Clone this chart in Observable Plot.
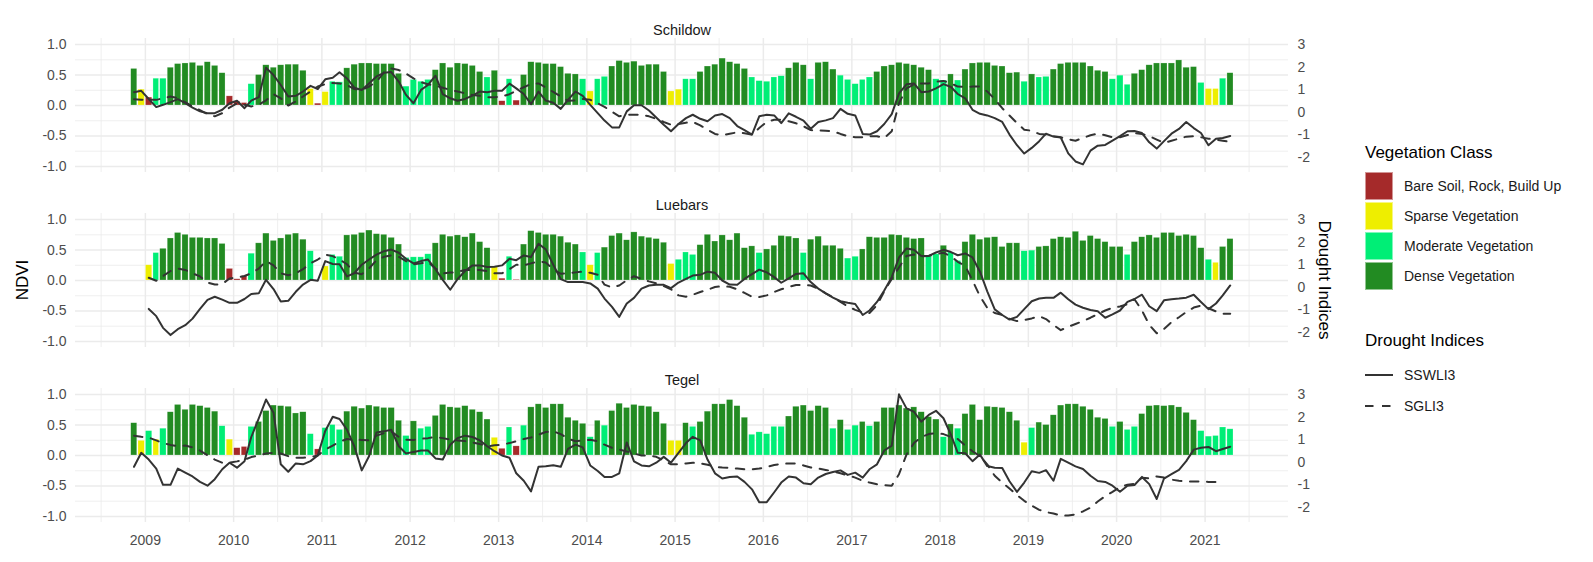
<!DOCTYPE html>
<html><head><meta charset="utf-8">
<script src="https://cdn.jsdelivr.net/npm/d3@7"></script>
<script src="https://cdn.jsdelivr.net/npm/@observablehq/plot@0.6"></script>
<style>
body{margin:0;background:#fff;font-family:"Liberation Sans",Arial,sans-serif;}
#wrap{position:relative;width:1593px;height:562px;overflow:hidden;}
.abs{position:absolute;white-space:nowrap;color:#000;}
.ttl{font-size:17px;height:20px;line-height:20px;}
.lab{font-size:14px;height:20px;line-height:20px;color:#1a1a1a;}
.sw{position:absolute;width:28px;height:28px;box-sizing:border-box;border:1px solid rgba(255,255,255,0.5);}
</style></head><body><div id="wrap"></div>
<script>
// ---- data ----
const stations = ["Schildow", "Luebars", "Tegel"];
const classCodes = ["B", "S", "M", "D"];
const classNames = ["Bare Soil, Rock, Build Up", "Sparse Vegetation", "Moderate Vegetation", "Dense Vegetation"];
const classColors = ["#A52A2A", "#EEEE00", "#00EE76", "#228B22"];
const indexNames = ["SSWLI3", "SGLI3"];
const yearTicks = [2009,2010,2011,2012,2013,2014,2015,2016,2017,2018,2019,2020,2021];
const ndviTicks = [-1, -0.5, 0, 0.5, 1];
const ndviMinor = [-0.75, -0.25, 0.25, 0.75];
const droughtTicks = [-2, -1, 0, 1, 2, 3];
// monthly series: Nov 2008 .. Apr 2021 (150 months)

const schildowClass = ("DSBMMDDDDDDD"+"DBBBMDDDDDDD"+"SBSMMDDDDDDD"+"DMMMMDDDDDDD"+"MDBMBDDDDDDD"+"DMSMMDDDDDDD"+
  "DSSMMDDDDDDD"+"MMMMMDDDMDDD"+"MMMMMDDDDDDD"+"DMMDMDDDDDDD"+"DMDMMDDDDDDD"+"DMMMDDDDDDDD"+"DMSSMD").split("");
const schildowNdvi = [
  0.60,0.26,0.13,0.44,0.44,0.62,0.68,0.69,0.70,0.65,0.71,0.65,
  0.53,0.15,0.06,0.04,0.35,0.50,0.66,0.62,0.66,0.67,0.67,0.57,
  0.27,0.03,0.22,0.39,0.38,0.61,0.67,0.69,0.69,0.68,0.68,0.68,
  0.52,0.31,0.42,0.39,0.42,0.58,0.69,0.62,0.69,0.68,0.65,0.55,
  0.46,0.57,0.07,0.43,0.08,0.50,0.71,0.70,0.68,0.68,0.63,0.52,
  0.51,0.43,0.23,0.43,0.47,0.64,0.73,0.70,0.72,0.65,0.67,0.67,
  0.55,0.23,0.26,0.43,0.43,0.55,0.64,0.67,0.77,0.71,0.68,0.60,
  0.46,0.40,0.39,0.46,0.48,0.61,0.70,0.66,0.43,0.70,0.71,0.59,
  0.49,0.42,0.35,0.42,0.46,0.55,0.64,0.66,0.70,0.68,0.66,0.62,
  0.58,0.43,0.41,0.51,0.41,0.59,0.69,0.70,0.70,0.65,0.64,0.53,
  0.54,0.39,0.51,0.46,0.47,0.59,0.68,0.70,0.70,0.70,0.64,0.57,
  0.55,0.43,0.49,0.34,0.52,0.58,0.66,0.69,0.69,0.69,0.74,0.62,
  0.63,0.37,0.27,0.27,0.44,0.53];
const schildowSSWLI3 = [
  0.89,0.95,0.59,0.23,0.33,0.45,0.58,0.40,0.21,0.04,-0.04,-0.04,
  0.11,0.40,0.51,0.18,0.52,0.67,1.97,1.65,1.21,0.70,0.73,0.92,
  1.17,1.03,1.46,1.53,1.77,1.50,1.09,0.99,1.28,1.59,1.75,1.78,
  1.36,0.77,0.40,0.99,1.21,1.62,0.80,0.62,0.51,0.59,0.74,0.92,
  0.89,0.95,0.95,1.27,1.06,0.81,0.36,0.92,0.52,0.42,0.15,0.55,
  0.92,0.73,0.33,-0.04,-0.37,-0.67,-0.67,0.04,0.31,0.31,0.08,-0.23,
  -0.55,-0.84,-0.52,-0.26,-0.11,-0.29,-0.40,-0.14,-0.08,-0.26,-0.61,-0.79,
  -0.99,-0.18,-0.11,-0.14,-0.48,-0.05,-0.20,-0.37,-0.73,-0.43,-0.36,-0.26,
  0.15,-0.07,-0.14,-0.96,-0.99,-0.84,-0.52,-0.08,0.84,1.24,1.28,0.89,
  0.92,1.06,1.25,1.12,0.81,0.62,0.11,-0.07,-0.14,-0.26,-0.43,-0.99,
  -1.46,-1.83,-1.58,-1.28,-0.95,-1.08,-1.12,-1.82,-2.18,-2.31,-1.70,-1.48,
  -1.45,-1.26,-1.06,-0.84,-0.83,-0.92,-1.33,-1.61,-1.28,-0.95,-0.74,-0.43,
  -0.70,-0.92,-1.46,-1.17,-1.14,-1.05];
const schildowSGLI3 = [
  0.58,0.56,0.55,0.55,0.62,0.70,0.62,0.45,0.26,0.09,-0.08,-0.18,
  -0.04,0.21,0.40,0.33,0.26,0.33,0.53,0.80,0.62,0.30,0.48,0.70,
  0.92,1.14,1.25,1.30,1.28,1.21,1.03,0.99,1.14,1.36,1.77,1.94,
  1.87,1.72,1.50,1.33,1.24,1.18,1.09,0.99,0.92,0.84,0.77,0.73,
  0.67,0.67,0.70,0.80,0.95,1.11,1.25,1.28,1.10,0.90,0.70,0.51,
  0.52,0.59,0.55,0.40,0.24,0.02,-0.18,-0.11,-0.11,-0.11,-0.18,-0.29,
  -0.43,-0.55,-0.52,-0.46,-0.43,-0.58,-0.77,-0.96,-1.02,-0.95,-0.89,-0.93,
  -0.99,-0.70,-0.42,-0.33,-0.33,-0.40,-0.49,-0.62,-0.79,-0.80,-0.82,-0.84,
  -0.96,-1.06,-1.11,-1.11,-1.06,-1.06,-1.14,-0.84,0.40,1.06,1.24,1.28,
  1.28,1.36,1.39,1.28,1.14,1.12,1.14,1.14,0.92,0.58,0.18,-0.14,
  -0.48,-0.77,-0.82,-0.96,-0.99,-1.06,-1.11,-1.20,-1.26,-1.14,-1.02,-0.95,
  -1.02,-1.11,-1.11,-1.01,-0.92,-0.96,-1.06,-1.21,-1.36,-1.26,-1.17,-1.08,
  -1.06,-1.11,-1.17,-1.21,-1.26,-1.31];

const luebarsClass = ("--SMDDDDDDDD"+"DBBBMDDDDDDD"+"M-SMMDDDDDDD"+"DMMMMDDDDDDD"+"DSBMBDDDDDDD"+"DMSMDDDDDDDD"+
  "DSMMMDDDDDDD"+"DMDDDDDMDDDD"+"DMMDDDDDDDDD"+"MMDMMDDDDDDD"+"DMMDDDDDDDDD"+"DDDMDDDDDDDD"+"DDMSDD").split("");
const luebarsNdvi = [
  null,null,0.25,0.45,0.52,0.69,0.78,0.75,0.70,0.70,0.69,0.69,
  0.60,0.19,0.02,0.07,0.44,0.61,0.77,0.65,0.69,0.75,0.77,0.67,
  0.48,null,0.23,0.42,0.39,0.74,0.75,0.78,0.82,0.76,0.75,0.70,
  0.59,0.37,0.38,0.38,0.43,0.61,0.75,0.72,0.74,0.71,0.77,0.63,
  0.53,0.22,0.03,0.39,0.01,0.59,0.81,0.78,0.75,0.75,0.72,0.62,
  0.59,0.46,0.25,0.45,0.54,0.73,0.77,0.66,0.79,0.72,0.70,0.68,
  0.62,0.27,0.34,0.46,0.42,0.58,0.75,0.64,0.74,0.66,0.77,0.53,
  0.56,0.45,0.51,0.57,0.73,0.72,0.69,0.45,0.67,0.72,0.57,0.57,
  0.52,0.36,0.39,0.51,0.71,0.70,0.70,0.75,0.74,0.70,0.68,0.69,
  0.40,0.43,0.57,0.46,0.32,0.63,0.75,0.67,0.70,0.71,0.55,0.61,
  0.61,0.48,0.49,0.55,0.56,0.68,0.71,0.70,0.80,0.65,0.73,0.68,
  0.63,0.55,0.55,0.42,0.63,0.71,0.74,0.70,0.78,0.78,0.73,0.75,
  0.73,0.53,0.34,0.29,0.55,0.68];
const luebarsSSWLI3 = [
  null,null,-0.96,-1.28,-1.80,-2.12,-1.86,-1.68,-1.39,-0.96,-0.56,-0.42,
  -0.55,-0.69,-0.69,-0.52,-0.30,-0.27,0.33,-0.08,-0.63,-0.60,-0.20,0.12,
  0.33,0.29,1.16,1.03,1.02,0.48,0.62,1.00,1.23,1.45,1.60,1.67,
  1.53,1.26,1.06,1.16,1.23,0.80,0.33,-0.11,0.36,0.72,0.97,0.97,
  0.90,0.91,0.97,1.26,1.20,1.41,1.34,1.93,1.68,1.00,0.36,0.23,
  0.23,0.23,0.17,-0.06,-0.50,-0.87,-1.31,-0.72,-0.47,-0.06,0.08,0.11,
  0.11,-0.04,0.21,0.37,0.52,0.55,0.69,0.64,0.30,0.12,0.11,0.37,
  0.58,0.78,0.66,0.45,0.20,0.39,0.59,0.62,0.23,-0.06,-0.27,-0.46,
  -0.62,-0.69,-0.74,-1.23,-1.03,-0.65,-0.14,0.45,1.32,1.72,1.66,1.39,
  1.39,1.54,1.66,1.56,1.42,1.50,1.32,0.69,-0.18,-0.98,-1.23,-1.43,
  -1.31,-0.97,-0.62,-0.50,-0.47,-0.47,-0.24,-0.53,-0.77,-0.91,-1.01,-1.06,
  -1.35,-1.20,-1.03,-0.65,-0.52,-0.33,-0.84,-1.06,-0.58,-0.53,-0.50,-0.46,
  -0.33,-0.65,-0.97,-0.72,-0.36,0.08];
const luebarsSGLI3 = [
  null,null,0.42,0.29,0.50,0.72,0.83,0.77,0.62,0.48,0.21,0.12,
  0.14,0.39,0.43,0.50,0.62,0.83,1.16,0.97,0.62,0.53,0.62,0.80,
  1.06,1.23,1.45,1.38,1.23,1.02,0.65,0.58,0.83,1.20,1.35,1.41,
  1.35,1.16,1.02,1.06,1.12,0.83,0.62,0.65,0.68,0.77,0.77,0.77,
  0.71,0.62,0.62,0.80,1.00,0.97,1.06,1.15,1.10,0.80,0.60,0.62,
  0.66,0.69,0.64,0.55,0.12,-0.01,0.08,0.31,0.49,0.37,0.26,0.17,
  0.05,-0.09,-0.36,-0.42,-0.33,-0.21,-0.11,0.01,0.05,0.02,-0.09,-0.25,
  -0.42,-0.43,-0.36,-0.21,-0.09,0.01,0.10,0.11,0.08,-0.06,-0.27,-0.44,
  -0.65,-0.85,-1.00,-1.12,-1.14,-0.79,-0.18,0.37,0.88,1.39,1.45,1.37,
  1.39,1.48,1.53,1.37,1.13,0.95,0.30,-0.40,-0.91,-1.14,-1.22,-1.40,
  -1.50,-1.45,-1.38,-1.28,-1.41,-1.67,-1.90,-1.75,-1.63,-1.50,-1.35,-1.19,
  -1.03,-0.91,-0.85,-0.75,-0.53,-1.03,-1.67,-2.04,-1.85,-1.55,-1.33,-1.10,
  -0.90,-0.81,-0.93,-1.07,-1.17,-1.17];

const tegelClass = ("DSMSMDDDDDDD"+"MSBBMDDDDDDD"+"MBMMMDDDDDDD"+"DMDMMDDDDDDD"+"DSBMBMDDDDDD"+"DDMDMDDDDDDD"+
  "DSSDMDDDDDDD"+"MMMMMDDDDDDM"+"DMMDMDDDDDDD"+"DDMDMDDDDDDD"+"DSMDDDDDDDDD"+"DMDMMDDDDDDD"+"DMMMMM").split("");
const tegelNdvi = [
  0.53,0.24,0.40,0.26,0.44,0.71,0.83,0.75,0.83,0.81,0.78,0.72,
  0.48,0.26,0.12,0.14,0.47,0.55,0.73,0.82,0.81,0.80,0.69,0.71,
  0.35,0.10,0.45,0.50,0.42,0.72,0.80,0.77,0.82,0.80,0.78,0.78,
  0.57,0.32,0.56,0.44,0.47,0.65,0.83,0.79,0.78,0.81,0.75,0.71,
  0.59,0.29,0.11,0.46,0.15,0.49,0.79,0.84,0.78,0.84,0.84,0.62,
  0.57,0.52,0.30,0.57,0.49,0.73,0.85,0.78,0.83,0.81,0.80,0.71,
  0.52,0.24,0.24,0.53,0.47,0.55,0.72,0.84,0.84,0.91,0.81,0.62,
  0.34,0.38,0.35,0.47,0.47,0.64,0.80,0.82,0.73,0.81,0.78,0.44,
  0.58,0.42,0.49,0.55,0.48,0.55,0.78,0.78,0.82,0.77,0.79,0.71,
  0.63,0.59,0.30,0.51,0.44,0.68,0.83,0.58,0.80,0.79,0.78,0.71,
  0.57,0.21,0.45,0.54,0.50,0.66,0.82,0.84,0.84,0.80,0.75,0.62,
  0.60,0.47,0.55,0.42,0.47,0.68,0.81,0.82,0.81,0.82,0.79,0.70,
  0.58,0.40,0.31,0.32,0.46,0.43];
const tegelSSWLI3 = [
  -0.20,0.42,0.12,-0.28,-1.00,-1.00,-0.28,-0.46,-0.63,-0.87,-1.04,-0.75,
  -0.31,-0.02,-0.24,0.05,1.12,1.95,2.78,2.20,-0.09,-0.42,-0.05,-0.09,
  0.05,0.30,1.39,2.02,1.92,1.44,0.71,-0.36,0.27,1.32,1.37,1.44,
  0.71,0.39,0.46,0.52,0.52,0.17,0.12,0.78,1.07,1.18,1.12,0.97,
  0.71,0.49,0.30,0.20,-0.49,-0.82,-1.29,-0.20,-0.18,-0.13,-0.20,0.59,
  0.78,0.66,-0.14,-0.39,-0.65,-0.65,-0.49,0.88,0.04,-0.14,-0.18,-0.02,
  0.24,-0.02,0.42,0.85,1.13,0.97,0.12,-0.49,-0.72,-0.65,-0.63,-0.87,
  -1.20,-1.77,-1.77,-1.33,-0.90,-0.63,-0.68,-0.93,-0.97,-0.68,-0.52,-0.43,
  -0.36,-0.56,-0.46,-0.68,-0.31,-0.09,0.52,0.74,3.01,2.39,2.24,1.80,
  2.10,2.28,1.95,1.22,0.42,0.40,0.05,0.34,-0.17,-0.24,-0.25,-0.84,
  -1.31,-0.90,-0.40,-0.47,-0.35,-0.82,0.15,-0.02,-0.18,-0.30,-0.60,-0.83,
  -0.87,-1.04,-1.31,-1.04,-1.01,-0.65,-0.97,-1.63,-0.72,-0.53,-0.34,0.05,
  0.56,0.64,0.68,0.49,0.59,0.69];
const tegelSGLI3 = [
  1.18,1.13,1.09,0.97,0.85,0.77,0.71,0.74,0.66,0.52,0.31,0.12,
  -0.02,-0.02,0.04,0.11,0.23,0.30,0.39,0.42,0.39,0.27,0.20,0.20,
  0.23,0.30,0.56,0.74,0.91,1.03,1.00,0.99,0.97,1.18,1.29,1.37,
  1.12,1.00,0.99,1.04,1.07,1.12,1.07,1.00,0.97,0.94,0.88,0.81,
  0.71,0.75,0.78,0.85,0.93,1.03,1.10,1.22,1.34,1.37,1.25,1.05,
  0.93,0.97,1.00,0.93,0.78,0.64,0.56,0.48,0.39,0.30,0.30,0.24,
  0.08,-0.09,-0.09,-0.05,-0.02,-0.05,-0.11,-0.20,-0.23,-0.25,-0.28,-0.31,
  -0.31,-0.28,-0.21,-0.12,-0.08,-0.05,-0.06,-0.14,-0.23,-0.28,-0.34,-0.40,
  -0.49,-0.58,-0.68,-0.82,-0.90,-0.97,-1.01,-1.04,-0.53,0.34,0.85,1.12,
  1.25,1.29,1.25,1.12,1.03,0.74,0.49,0.27,-0.09,-0.60,-0.90,-1.16,
  -1.45,-1.71,-1.92,-2.11,-2.21,-2.27,-2.37,-2.36,-2.31,-2.18,-2.01,-1.74,
  -1.50,-1.31,-1.10,-1.00,-0.96,-0.69,-0.71,-0.63,-0.68,-0.77,-0.82,-0.85,
  -0.85,-0.85,-0.87,-0.87,-0.90,null];

// secondary-axis transform used by the original (index = 2.7 * NDVI + 0.3)
const secMul = 2.7, secAdd = 0.3;
const toNdvi = r => (r - secAdd) / secMul;

// ---- tables ----
const series = {
  Schildow: [schildowClass, schildowNdvi, schildowSSWLI3, schildowSGLI3],
  Luebars: [luebarsClass, luebarsNdvi, luebarsSSWLI3, luebarsSGLI3],
  Tegel: [tegelClass, tegelNdvi, tegelSSWLI3, tegelSGLI3]
};
const bars = [], lines = [];
for (const st of stations) {
  const [cls, nd, ss, sg] = series[st];
  for (let i = 0; i < nd.length; i++) {
    const x1 = new Date(Date.UTC(2008, 10 + i, 1));
    const x2 = new Date(Date.UTC(2008, 11 + i, 1));
    const mid = new Date(Date.UTC(2008, 10 + i, 15));
    if (nd[i] != null) bars.push({station: st, x1, x2, ndvi: nd[i], cls: classNames[classCodes.indexOf(cls[i])]});
    if (ss[i] != null) lines.push({station: st, date: mid, index: "SSWLI3", v: toNdvi(ss[i])});
    if (sg[i] != null) lines.push({station: st, date: mid, index: "SGLI3", v: toNdvi(sg[i])});
  }
}
const majorX = yearTicks.map(y => new Date(Date.UTC(y, 0, 1)));
const minorX = d3.range(2008, 2022).map(y => new Date(Date.UTC(y, 6, 2)));

const font = '"Liberation Sans", Arial, sans-serif';
const grid = "#ebebeb";

const chart = Plot.plot({
  width: 1593, height: 562,
  marginLeft: 75, marginRight: 305, marginTop: 37, marginBottom: 39,
  style: {fontFamily: font, fontSize: "14px", background: "white", overflow: "visible"},
  x: {type: "utc", domain: [new Date(Date.UTC(2008, 2, 18)), new Date(Date.UTC(2021, 11, 12))], axis: null},
  y: {domain: [-1.1, 1.1], axis: null},
  fy: {domain: stations, paddingInner: 0.2316, paddingOuter: 0, axis: null, label: null},
  color: {domain: classNames, range: classColors},
  marks: [
    Plot.ruleX(minorX, {stroke: grid, strokeWidth: 0.8}),
    Plot.ruleX(majorX, {stroke: grid, strokeWidth: 1.5}),
    Plot.ruleY(ndviMinor, {stroke: grid, strokeWidth: 0.8}),
    Plot.ruleY(ndviTicks, {stroke: grid, strokeWidth: 1.5}),
    Plot.rectY(bars, {x1: "x1", x2: "x2", y1: 0, y2: "ndvi", fy: "station", fill: "cls",
      insetLeft: 0.6, insetRight: 0.6, stroke: "white", strokeWidth: 0.5, strokeOpacity: 0.45}),
    Plot.line(lines.filter(d => d.index === "SGLI3"), {x: "date", y: "v", fy: "station",
      stroke: "#333333", strokeWidth: 2, strokeDasharray: "8.5,8.5"}),
    Plot.line(lines.filter(d => d.index === "SSWLI3"), {x: "date", y: "v", fy: "station",
      stroke: "#333333", strokeWidth: 2}),
    Plot.axisY({anchor: "left", ticks: ndviTicks, tickFormat: d => d.toFixed(1), tickSize: 0, tickPadding: 9,
      fontSize: 14, color: "#4d4d4d", label: null}),
    Plot.axisY({anchor: "right", ticks: droughtTicks.map(toNdvi), tickFormat: v => String(Math.round(v * secMul + secAdd)),
      tickSize: 0, tickPadding: 9, fontSize: 14, color: "#4d4d4d", label: null}),
    Plot.axisX({anchor: "bottom", ticks: majorX, tickFormat: d3.utcFormat("%Y"), tickSize: 0, tickPadding: 13,
      fontSize: 14, color: "#4d4d4d", label: null}),
    Plot.text(stations, {fy: d => d, text: d => d, frameAnchor: "top", dy: -14, fontSize: 14.5, fill: "#1a1a1a"})
  ]
});

const wrap = document.getElementById("wrap");
wrap.appendChild(chart);

function addDiv(html, cls, style) {
  const d = document.createElement("div");
  d.className = "abs " + cls;
  d.innerHTML = html;
  Object.assign(d.style, style);
  wrap.appendChild(d);
  return d;
}
// axis titles
addDiv("NDVI", "ttl", {left: "22.5px", top: "280px", transform: "translate(-50%,-50%) rotate(-90deg)"});
addDiv("Drought Indices", "ttl", {left: "1324px", top: "280px", transform: "translate(-50%,-50%) rotate(90deg)"});
// legend: vegetation class
addDiv("Vegetation Class", "ttl", {left: "1365px", top: "143px"});
classNames.forEach((n, i) => {
  const sw = document.createElement("div");
  sw.className = "sw";
  Object.assign(sw.style, {left: "1365px", top: (172 + 30 * i) + "px", background: classColors[i]});
  wrap.appendChild(sw);
  addDiv(n, "lab", {left: "1404px", top: (176 + 30 * i) + "px"});
});
// legend: drought indices
addDiv("Drought Indices", "ttl", {left: "1365px", top: "331px"});
indexNames.forEach((n, i) => {
  const y = 375 + 31 * i;
  const s = d3.select(wrap).append("svg").attr("width", 30).attr("height", 6)
    .style("position", "absolute").style("left", "1364px").style("top", (y - 3) + "px");
  s.append("line").attr("x1", 1).attr("x2", 29).attr("y1", 3).attr("y2", 3)
    .attr("stroke", "#333333").attr("stroke-width", 2)
    .attr("stroke-dasharray", i === 1 ? "8.5,8.5" : null);
  addDiv(n, "lab", {left: "1404px", top: (y - 10) + "px"});
});
</script></body></html>
